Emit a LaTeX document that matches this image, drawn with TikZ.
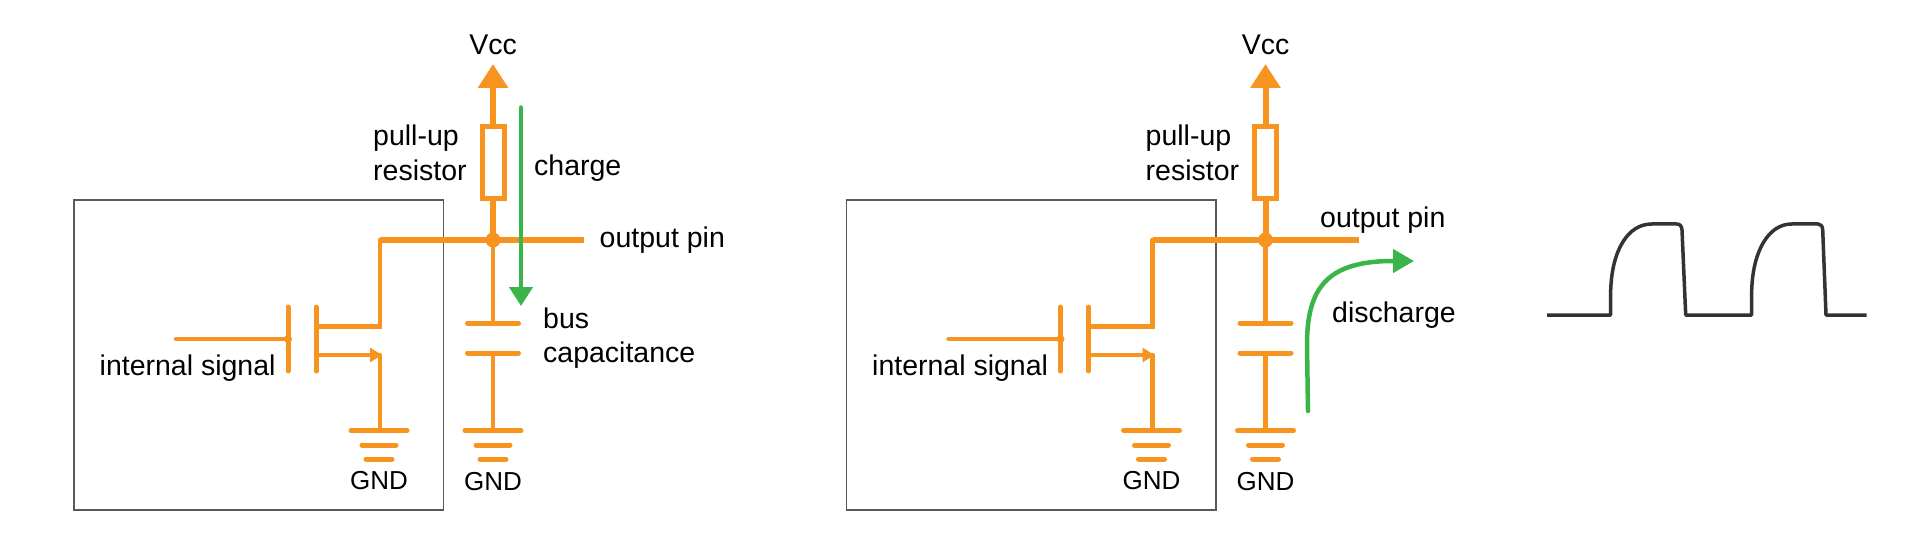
\documentclass[tikz,border=0pt]{standalone}
\usepackage{fontspec}
\setmainfont{Liberation Sans}
\usetikzlibrary{arrows.meta, positioning}
\definecolor{wire}{HTML}{F79420}
\definecolor{flow}{HTML}{39B54A}
\definecolor{trace}{HTML}{333333}

% one open-drain stage: #1 = name prefix, #2 = x offset, #3 = right end of the output line
\newcommand{\opendrain}[3]{
\begin{scope}[xshift=#2pt]
\node[chipbox] (#1chip) at (258.75,355) {};
\node[label] (#1vcc) at (493,45) {Vcc};
\coordinate (#1supply) at (493,64);
\node[resistor] (#1res) at (493,163) {};
\node[dot] (#1out) at (493,240) {};
\coordinate (#1outend) at (#3,240);
\coordinate (#1corner) at (380,240);
\coordinate (#1capa) at (493,323);
\coordinate (#1capb) at (493,353);
\coordinate (#1gnda) at (493,430.5);
\node[gndlabel] (#1gndtxt) at (493,482) {GND};
% mosfet
\coordinate (#1gate) at (288,339);
\coordinate (#1in) at (176,339);
\coordinate (#1chan) at (316,339);
\coordinate (#1drain) at (380,326.5);
\coordinate (#1source) at (380,355);
\coordinate (#1fetgnd) at (380,430.5);
\node[gndlabel] (#1fettxt) at (379,481) {GND};
\node[label,anchor=west] (#1sig) at (99.5,368) {internal signal};
\node[label,anchor=west,align=left] (#1pull) at (373,153) {pull-up\\resistor};
% wires
\draw[bigwire,-{Triangle[width=29pt,length=24pt]}] (#1res.north) -- (#1supply);
\draw[bigwire] (#1res.south) -- (#1out.center);
\draw[bigwire] (#1outend) -- (#1corner);
\draw[wireline] (#1corner) -- (#1drain) -- (#1drain -| #1chan);
\draw[wireline] (#1out.center) -- (#1capa);
\draw[wireline] (#1capb) -- (#1gnda);
\draw[plate] ([xshift=-25.5pt]#1capa) -- ([xshift=25.5pt]#1capa);
\draw[plate] ([xshift=-25.5pt]#1capb) -- ([xshift=25.5pt]#1capb);
\draw[plate] ([xshift=-28pt]#1gnda) -- ([xshift=28pt]#1gnda);
\draw[plate] ([xshift=-17pt,yshift=-14.5pt]#1gnda) -- ([xshift=17pt,yshift=-14.5pt]#1gnda);
\draw[plate] ([xshift=-13pt,yshift=-28.5pt]#1gnda) -- ([xshift=13pt,yshift=-28.5pt]#1gnda);
\draw[plate] ([xshift=-29pt]#1fetgnd) -- ([xshift=27pt]#1fetgnd);
\draw[plate] ([xshift=-18pt,yshift=-14.5pt]#1fetgnd) -- ([xshift=16pt,yshift=-14.5pt]#1fetgnd);
\draw[plate] ([xshift=-14pt,yshift=-28.5pt]#1fetgnd) -- ([xshift=12pt,yshift=-28.5pt]#1fetgnd);
\draw[wireline] (#1in) -- (#1gate);
\draw[plate] ([yshift=-32pt]#1gate) -- ([yshift=32pt]#1gate);
\draw[plate] ([yshift=-32pt]#1chan) -- ([yshift=32pt]#1chan);
\node[smalldot] (#1gatedot) at (#1gate) {};
\draw[wireline,-{Triangle[width=14pt,length=12pt]}] (#1source -| #1chan) -- ([xshift=2pt]#1source);
\draw[wireline] (#1source) -- (#1fetgnd);
\end{scope}}

\begin{document}
\begin{tikzpicture}
[
	x=1pt, y=-1pt,
	label/.style = {inner sep=0pt, font=\fontsize{28.5}{34.5}\selectfont},
	gndlabel/.style = {inner sep=0pt, font=\fontsize{26}{34.5}\selectfont},
	chipbox/.style = {draw=black!65, line width=1.5pt, minimum width=369.5pt, minimum height=310pt, inner sep=0pt},
	resistor/.style = {draw=wire, fill=white, line width=5pt, minimum width=22pt, minimum height=72pt, inner sep=0pt},
	dot/.style = {fill=wire, circle, minimum size=15pt, inner sep=0pt},
	smalldot/.style = {fill=wire, circle, minimum size=8pt, inner sep=0pt},
	bigwire/.style = {draw=wire, line width=6pt},
	wireline/.style = {draw=wire, line width=4.5pt, line cap=round},
	plate/.style = {draw=wire, line width=5pt, line cap=round},
	flowline/.style = {draw=flow, line width=4.5pt, line cap=round},
	scopeline/.style = {draw=trace, line width=3.5pt, line join=round}
]
\useasboundingbox (0,0) rectangle (1920,540);

\opendrain{l}{0}{584}
\opendrain{r}{772.5}{586.5}

% left side
\node[label,anchor=west] (charge) at (534,168) {charge};
\node[label,anchor=west] (lpin) at (599.5,240) {output pin};
\node[label,anchor=west,align=left] (buscap) at (543,338) {bus\\capacitance};
\coordinate (chargetop) at (521,107.5);
\coordinate (chargeend) at (521,306);
\draw[flowline,-{Triangle[width=23pt,length=19pt]}] (chargetop) -- (chargeend);

% right side
\node[label,anchor=west] (rpin) at (1320,220) {output pin};
\node[label,anchor=west] (discharge) at (1332,315) {discharge};
\coordinate (dischargeA) at (1308,411);
\coordinate (dischargeB) at (1414,261);
\draw[flowline,-{Triangle[width=23pt,length=21pt]}] (dischargeA) -- (1307,345) .. controls (1307,290) and (1325,261) .. (1393,261) -- (dischargeB);

% waveform
\coordinate (waveA) at (1547,315);
\coordinate (waveB) at (1866.7,315);
\draw[scopeline] (waveA) -- (1610.7,315) -- (1610.7,290) .. controls (1612,250) and (1628,224) .. (1651.7,224)
	-- (1676.7,224) .. controls (1680,224) and (1681.7,226) .. (1682,230) -- (1685.7,315) -- (1751.7,315)
	-- (1751.7,290) .. controls (1753,250) and (1769,224) .. (1791.7,224) -- (1818,224)
	.. controls (1821,224) and (1822.5,226) .. (1822.7,230) -- (1826,315) -- (waveB);
\end{tikzpicture}
\end{document}
